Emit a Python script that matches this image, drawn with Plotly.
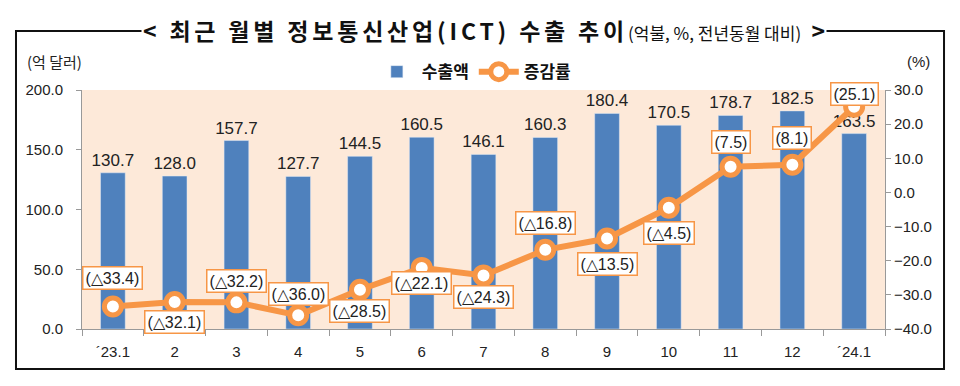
import plotly.graph_objects as go

months = ["´23.1", "2", "3", "4", "5", "6", "7", "8", "9", "10", "11", "12", "´24.1"]
exports = [130.7, 128.0, 157.7, 127.7, 144.5, 160.5, 146.1, 160.3, 180.4, 170.5, 178.7, 182.5, 163.5]
growth = [-33.4, -32.1, -32.2, -36.0, -28.5, -22.1, -24.3, -16.8, -13.5, -4.5, 7.5, 8.1, 25.1]
# vertical pixel offset of each growth label box (style only)
label_shift = [28, -20, 21, 21, -21, -15, -22, 27, -25, -25, 25, 27, 13]

BLUE = "#4F81BD"
ORANGE = "#F79646"
PEACH = "#FDE9D9"
FONT = "Liberation Sans, Arial, sans-serif"
KFONT = "Noto Sans CJK KR, sans-serif"

def fmt(v):
    return f"(△{abs(v):.1f})" if v < 0 else f"({v:.1f})"

fig = go.Figure()
fig.add_trace(go.Bar(
    x=months, y=exports, name="<b>수출액</b>", marker_color=BLUE, width=0.4,
    texttemplate="%{y:.1f}", textposition="outside", cliponaxis=False,
    constraintext="none",
    textfont=dict(family=FONT, size=17, color="#222"),
))
fig.add_trace(go.Scatter(
    x=months, y=growth, yaxis="y2", name="<b>증감률</b>", mode="lines+markers",
    line=dict(color=ORANGE, width=6),
    marker=dict(size=17, color="white", line=dict(color=ORANGE, width=5)),
    cliponaxis=False,
))

annotations = []
for i, (g, s) in enumerate(zip(growth, label_shift)):
    annotations.append(dict(
        x=i, y=g, xref="x", yref="y2", text=fmt(g), showarrow=False,
        yshift=s,
        font=dict(family=FONT, size=16, color="#222"),
        bgcolor="white", bordercolor=ORANGE, borderwidth=1.5, borderpad=2,
    ))

annotations += [
    dict(x=0.5, y=1.251, xref="paper", yref="paper", showarrow=False,
         text="<b><span style='letter-spacing:3.8px'>&lt; 최근 월별 정보통신산업(ICT) 수출 추이</span></b>"
              "<span style='font-size:17px'>(억불, %, 전년동월 대비)</span><b>  &gt;</b>",
         font=dict(family=KFONT, size=23, color="#111"), bgcolor="white",
         xanchor="center", yanchor="middle"),
    dict(x=-0.071, y=1.12, xref="paper", yref="paper", showarrow=False,
         text="(억 달러)", font=dict(family=KFONT, size=15, color="#222"),
         xanchor="left", yanchor="middle"),
    dict(x=1.025, y=1.12, xref="paper", yref="paper", showarrow=False,
         text="(%)", font=dict(family=FONT, size=15, color="#222"),
         xanchor="left", yanchor="middle"),
]

fig.update_layout(
    width=952, height=378,
    margin=dict(l=74, r=75, t=82, b=57, autoexpand=False),
    paper_bgcolor="white", plot_bgcolor=PEACH,
    showlegend=True,
    legend=dict(orientation="h", x=0.488, xanchor="center", y=1.075, yanchor="middle",
                font=dict(family=KFONT, size=17, color="#111"), bgcolor="rgba(0,0,0,0)",
                itemwidth=40, tracegroupgap=0),
    xaxis=dict(type="category", range=[-0.5, 12.5], showgrid=False, showline=True,
               linecolor="#999", linewidth=1,
               ticks="outside", tickson="boundaries", ticklen=6, tickcolor="#999",
               tickfont=dict(family=FONT, size=15, color="#222"), ticklabelstandoff=9),
    yaxis=dict(range=[0, 200], dtick=50, tickformat=".1f", showgrid=False, zeroline=False,
               showline=True, linecolor="#999", ticks="outside", ticklen=5, tickcolor="#999",
               tickfont=dict(family=FONT, size=15, color="#222"), ticklabelstandoff=10),
    yaxis2=dict(range=[-40, 30], dtick=10, tickformat=".1f", overlaying="y", side="right",
                showgrid=False, zeroline=False, showline=True, linecolor="#999",
                ticks="outside", ticklen=5, tickcolor="#999",
                tickfont=dict(family=FONT, size=15, color="#222")),
    annotations=annotations,
    shapes=[dict(type="rect", xref="paper", yref="paper", x0=-0.0822, x1=1.0735,
                 y0=-0.167, y1=1.247, line=dict(color="#111", width=2), layer="below")],
)

fig.write_html("out.html")
